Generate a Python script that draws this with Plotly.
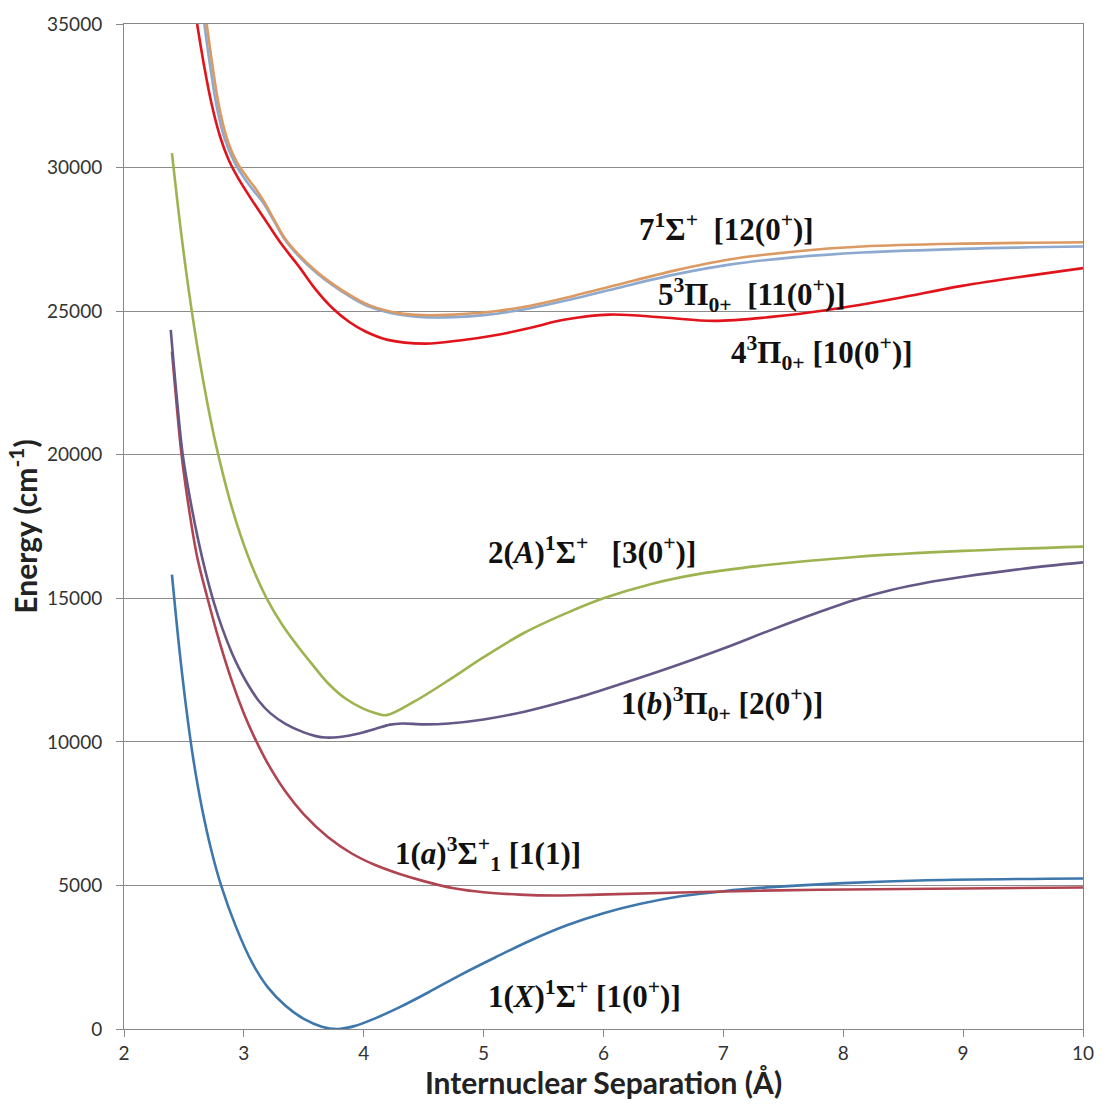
import plotly.graph_objects as go

# ---- data ----
r_X = [2.40, 2.46, 2.52, 2.58, 2.65, 2.73, 2.81, 2.93, 3.07, 3.20, 3.35, 3.50, 3.65, 3.78, 3.92, 4.10, 4.30,
       4.55, 4.80, 5.10, 5.40, 5.70, 6.00, 6.30, 6.64, 7.00, 7.40, 8.00, 8.70, 10.0]
E_X = [15820, 13300, 11150, 9350, 7700, 6200, 5000, 3600, 2300, 1450, 800, 350, 80, 0, 100, 380, 760,
       1300, 1870, 2500, 3100, 3620, 4030, 4350, 4620, 4800, 4940, 5080, 5180, 5240]

r_a = [2.40, 2.44, 2.48, 2.54, 2.61, 2.70, 2.80, 2.90, 3.00, 3.08, 3.20, 3.35, 3.50, 3.70, 3.90, 4.10, 4.30,
       4.50, 4.75, 5.00, 5.30, 5.60, 5.95, 7.00, 7.80, 10.0]
E_a = [23590, 21700, 20000, 18170, 16450, 14950, 13435, 12114, 10986, 10224, 9240, 8250, 7473, 6686, 6112, 5701, 5398,
       5150, 4900, 4760, 4680, 4650, 4680, 4790, 4850, 4930]

r_b = [2.39, 2.44, 2.49, 2.55, 2.62, 2.68, 2.75, 2.82, 2.90, 2.96, 3.03, 3.12, 3.22, 3.35, 3.50, 3.60, 3.68,
       3.80, 3.95, 4.10, 4.22, 4.32, 4.50, 4.71, 5.00, 5.34, 5.75, 6.17, 6.60, 7.00, 7.40, 7.80, 8.10,
       8.40, 8.70, 9.00, 9.50, 10.0]
E_b = [24350, 22000, 20000, 18493, 17008, 15929, 14850, 13951, 13097, 12560, 12023, 11450, 11000, 10620, 10330, 10200, 10150,
       10170, 10280, 10460, 10600, 10640, 10610, 10640, 10780, 11050, 11500, 12050, 12650, 13250, 13900, 14520, 14950,
       15290, 15550, 15750, 16030, 16250]

r_A = [2.40, 2.47, 2.54, 2.62, 2.70, 2.77, 2.88, 2.97, 3.08, 3.19, 3.32, 3.45, 3.57, 3.70, 3.85, 4.00, 4.10,
       4.19, 4.42, 4.71, 5.00, 5.34, 5.70, 6.00, 6.40, 6.80, 7.30, 8.10, 9.00, 10.0]
E_A = [30500, 27950, 25730, 23550, 21700, 20290, 18456, 17226, 15990, 15000, 14079, 13330, 12700, 12050, 11500, 11150, 11000,
       10930, 11400, 12150, 12950, 13800, 14500, 15000, 15500, 15850, 16130, 16440, 16650, 16800]

r_43P = [2.61, 2.67, 2.73, 2.80, 2.87, 2.95, 3.07, 3.19, 3.32, 3.46, 3.60, 3.74, 3.88, 4.01, 4.20, 4.51, 4.80,
         5.12, 5.40, 5.67, 6.05, 6.50, 6.92, 7.40, 7.88, 8.45, 8.99, 10.0]
E_43P = [35000, 33500, 32230, 31100, 30300, 29650, 28850, 28100, 27300, 26550, 25750, 25100, 24620, 24300, 24000, 23870, 23980,
         24180, 24430, 24700, 24880, 24780, 24660, 24800, 25050, 25450, 25880, 26500]

r_53P = [2.67, 2.72, 2.77, 2.84, 2.92, 3.00, 3.08, 3.16, 3.25, 3.34, 3.45, 3.60, 3.74, 3.90, 4.05, 4.29, 4.50,
         4.75, 5.00, 5.39, 5.75, 6.11, 6.60, 7.05, 7.60, 8.16, 9.00, 10.0]
E_53P = [35000, 33500, 32200, 31000, 30200, 29650, 29200, 28780, 28150, 27500, 26950, 26350, 25900, 25470, 25150, 24880, 24790,
         24790, 24860, 25100, 25430, 25800, 26280, 26620, 26880, 27040, 27170, 27250]

r_71S = [2.69, 2.74, 2.79, 2.86, 2.94, 3.02, 3.10, 3.17, 3.25, 3.34, 3.45, 3.60, 3.74, 3.90, 4.05, 4.29, 4.50,
         4.75, 5.00, 5.39, 5.75, 6.11, 6.60, 7.05, 7.60, 8.16, 9.00, 10.0]
E_71S = [35000, 33500, 32200, 31000, 30200, 29700, 29250, 28800, 28200, 27550, 27000, 26400, 25950, 25520, 25200, 24930, 24860,
         24880, 24950, 25190, 25530, 25910, 26420, 26800, 27080, 27250, 27350, 27400]

x_ticks = [2, 3, 4, 5, 6, 7, 8, 9, 10]
y_ticks = [0, 5000, 10000, 15000, 20000, 25000, 30000, 35000]

series = [
    (r_X, E_X, "#3E77AC", "1(X)1Σ+"),
    (r_a, E_a, "#B04450", "1(a)3Σ+1"),
    (r_b, E_b, "#655887", "1(b)3Π0+"),
    (r_A, E_A, "#9DB350", "2(A)1Σ+"),
    (r_43P, E_43P, "#E0141A", "4 3Π0+"),
    (r_53P, E_53P, "#8EA9CF", "5 3Π0+"),
    (r_71S, E_71S, "#DB9A63", "7 1Σ+"),
]

fig = go.Figure()
for rx, ey, col, nm in series:
    fig.add_trace(go.Scatter(x=rx, y=ey, mode="lines", name=nm,
                             line=dict(color=col, width=2.6, shape="spline", smoothing=1.0)))

labels = [
    (6.28, 27900, "<b>7<sup>1</sup>Σ<sup>+</sup>  [12(0<sup>+</sup>)]</b>"),
    (6.44, 25550, "<b>5<sup>3</sup>Π<sub>0+</sub>  [11(0<sup>+</sup>)]</b>"),
    (7.05, 23550, "<b>4<sup>3</sup>Π<sub>0+</sub> [10(0<sup>+</sup>)]</b>"),
    (5.02, 16650, "<b>2(<i>A</i>)<sup>1</sup>Σ<sup>+</sup>   [3(0<sup>+</sup>)]</b>"),
    (6.13, 11330, "<b>1(<i>b</i>)<sup>3</sup>Π<sub>0+</sub> [2(0<sup>+</sup>)]</b>"),
    (4.24, 6100, "<b>1(<i>a</i>)<sup>3</sup>Σ<sup>+</sup><sub>1</sub> [1(1)]</b>"),
    (5.02, 1200, "<b>1(<i>X</i>)<sup>1</sup>Σ<sup>+</sup> [1(0<sup>+</sup>)]</b>"),
]
for lx, ly, txt in labels:
    fig.add_annotation(x=lx, y=ly, xref="x", yref="y", text=txt, showarrow=False,
                       xanchor="left", yanchor="middle",
                       font=dict(family="Liberation Serif", size=31, color="#111111"))

fig.update_layout(
    width=1106, height=1113,
    margin=dict(l=124, r=17, t=20, b=84),
    paper_bgcolor="white", plot_bgcolor="white",
    showlegend=False,
    font=dict(family="Lato", color="#333333"),
)
fig.update_xaxes(range=[2, 10], tickvals=x_ticks, ticks="outside", ticklen=7, tickcolor="#888888",
                 showline=True, linecolor="#888888", linewidth=1, mirror=True, showgrid=False,
                 zeroline=False, tickfont=dict(size=19, color="#333333"),
                 title=dict(text="<b>Internuclear Separation (Å)</b>", font=dict(size=30, color="#222222"),
                            standoff=8))
fig.update_yaxes(range=[0, 35000], tickvals=y_ticks, ticks="outside", ticklen=7, tickcolor="#888888",
                 showline=True, linecolor="#888888", linewidth=1, mirror=True, showgrid=True,
                 gridcolor="#8C8C8C", gridwidth=1, zeroline=False, tickformat="d",
                 ticklabelstandoff=10,
                 tickfont=dict(size=19, color="#333333"),
                 title=dict(text="<b>Energy (cm<sup>-1</sup>)</b>", font=dict(size=30, color="#222222"),
                            standoff=0))

fig.write_html("out.html")
